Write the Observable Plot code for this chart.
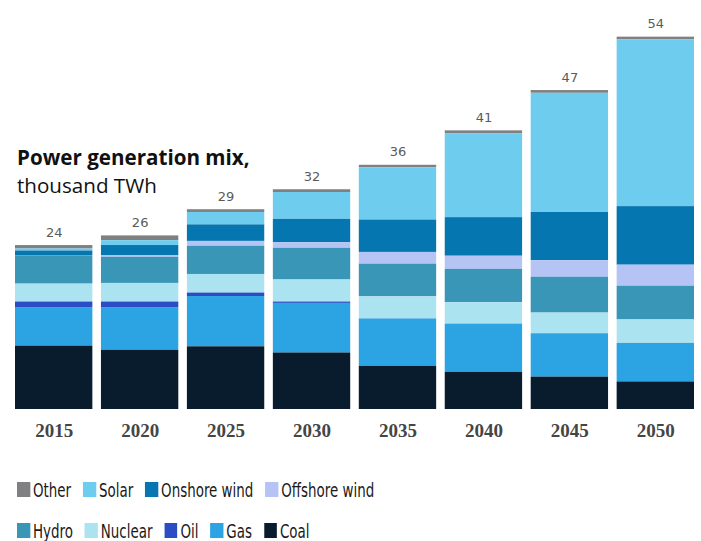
<!DOCTYPE html>
<html>
<head>
<meta charset="utf-8">
<script src="https://cdn.jsdelivr.net/npm/d3@7"></script>
<script src="https://cdn.jsdelivr.net/npm/@observablehq/plot@0.6"></script>
<style>
  html, body { margin: 0; padding: 0; background: #fff; }
  #wrap { position: relative; width: 701px; height: 541px; overflow: hidden; }
  #title { position: absolute; left: 17px; top: 143px; font-family: "Open Sans", sans-serif; font-size: 20.6px; line-height: 28px; color: #111; white-space: nowrap; }
  #title b { font-weight: 700; }
  #legend { position: absolute; left: 17px; top: 469px; font-family: "Liberation Sans Narrow", "DejaVu Sans Condensed", "Roboto", sans-serif; font-size: 19px; color: #1a1a1a; transform: scaleX(0.785); transform-origin: 0 0; white-space: nowrap; }
  .row { display: flex; align-items: center; height: 41px; gap: 15.3px; }
  .item { display: flex; align-items: center; gap: 3.8px; }
  .sw { width: 16.5px; height: 15px; display: inline-block; }
</style>
</head>
<body>
<div id="wrap">
  <div id="chart"></div>
  <div id="title"><b>Power generation mix,</b><br>thousand TWh</div>
  <div id="legend"></div>
</div>
<script>
const years = ["2015", "2020", "2025", "2030", "2035", "2040", "2045", "2050"];
const sources = ["Other", "Solar", "Onshore wind", "Offshore wind", "Hydro", "Nuclear", "Oil", "Gas", "Coal"];
const colors = ["#808082", "#6ecdee", "#0576af", "#b5c4f4", "#3a96b7", "#ace3f1", "#2b4cc4", "#2ca4e4", "#081c2d"];
const legendRows = [["Other", "Solar", "Onshore wind", "Offshore wind"], ["Hydro", "Nuclear", "Oil", "Gas", "Coal"]];

const other    = [0.5, 0.7, 0.4, 0.4, 0.35, 0.4, 0.4, 0.4];
const solar    = [0.3, 0.7, 1.8, 3.9, 7.6, 12.2, 17.3, 24.2];
const onshore  = [0.7, 1.5, 2.4, 3.4, 4.7, 5.6, 7.0, 8.5];
const offshore = [0.0, 0.2, 0.7, 0.8, 1.7, 1.9, 2.4, 3.05];
const hydro    = [4.1, 3.8, 4.1, 4.6, 4.75, 4.85, 5.2, 4.9];
const nuclear  = [2.6, 2.7, 2.7, 3.2, 3.2, 3.1, 3.0, 3.4];
const oil      = [0.8, 0.8, 0.5, 0.2, 0.0, 0.0, 0.0, 0.0];
const gas      = [5.6, 6.2, 7.3, 7.2, 6.9, 7.0, 6.3, 5.6];
const coal     = [9.2, 8.6, 9.1, 8.2, 6.25, 5.4, 4.7, 4.0];
const totalLabels = ["24", "26", "29", "32", "36", "41", "47", "54"];

const series = {
  "Other": other, "Solar": solar, "Onshore wind": onshore, "Offshore wind": offshore,
  "Hydro": hydro, "Nuclear": nuclear, "Oil": oil, "Gas": gas, "Coal": coal
};
const rows = [];
for (const s of sources) years.forEach((y, i) => rows.push({year: y, source: s, value: series[s][i]}));
const stackOrder = sources.slice().reverse();
const totals = years.map((y, i) => ({year: y, sum: d3.sum(sources, s => series[s][i]), label: totalLabels[i]}));

const chart = Plot.plot({
  width: 701,
  height: 470,
  marginLeft: 15,
  marginRight: 7,
  marginTop: 37,
  marginBottom: 61,
  style: {background: "transparent"},
  x: {domain: years, paddingInner: 0.1, paddingOuter: 0, round: false, label: null},
  y: {domain: [0, 54], axis: null},
  color: {domain: sources, range: colors},
  marks: [
    Plot.barY(rows, {x: "year", y: "value", fill: "source", order: stackOrder}),
    Plot.text(totals, {x: "year", y: "sum", text: "label", dy: -13, fontSize: 13, fill: "#5a5a5a", fontFamily: "DejaVu Sans, sans-serif"}),
    Plot.axisX({tickSize: 0, tickPadding: 14, fontSize: 19, fontWeight: "bold", fontFamily: "Liberation Serif, serif", fill: "#454545", label: null})
  ]
});
document.getElementById("chart").appendChild(chart);

const legend = document.getElementById("legend");
const colorOf = Object.fromEntries(sources.map((s, i) => [s, colors[i]]));
for (const r of legendRows) {
  const row = document.createElement("div");
  row.className = "row";
  for (const s of r) {
    const it = document.createElement("div");
    it.className = "item";
    const sw = document.createElement("span");
    sw.className = "sw";
    sw.style.background = colorOf[s];
    const t = document.createElement("span");
    t.textContent = s;
    it.appendChild(sw);
    it.appendChild(t);
    row.appendChild(it);
  }
  legend.appendChild(row);
}
</script>
</body>
</html>
